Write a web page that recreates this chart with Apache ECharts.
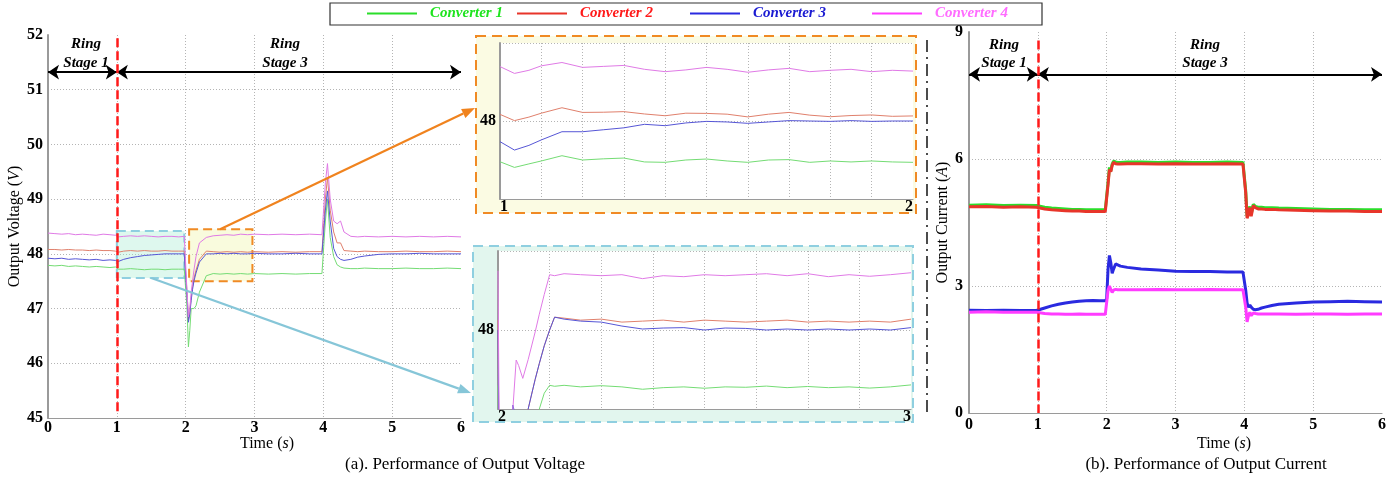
<!DOCTYPE html>
<html><head><meta charset="utf-8">
<script src="https://cdn.jsdelivr.net/npm/echarts@6/dist/echarts.min.js"></script>
<style>html,body{margin:0;padding:0;background:#fff}#c{width:1397px;height:477px}</style>
</head><body><div id="c"></div>
<script>
// ---------- DATA ----------
const names = ['Converter 1', 'Converter 2', 'Converter 3', 'Converter 4'];

// (a) Output voltage, full view
const tV = [0,0.1,0.2,0.3,0.4,0.5,0.6,0.7,0.8,0.9,0.98,1.0,1.02,1.1,1.2,1.3,1.4,1.5,1.6,1.7,1.8,1.9,1.98,2.0,2.02,2.04,2.06,2.08,2.1,2.12,2.15,2.2,2.3,2.4,2.5,2.6,2.7,2.8,2.9,3.0,3.2,3.4,3.6,3.8,3.98,4.0,4.03,4.06,4.1,4.15,4.2,4.25,4.3,4.4,4.5,4.6,4.8,5.0,5.2,5.4,5.6,5.8,6.0];
const voltC1 = [47.79,47.78,47.79,47.77,47.78,47.77,47.76,47.77,47.76,47.75,47.76, 47.74,47.72,47.72,47.73,47.72,47.71,47.72,47.72,47.71,47.72,47.72,47.72, 47.72,47.0,46.3,46.6,47.0,47.0,47.0,47.05,47.3,47.6, 47.64,47.63,47.64,47.63,47.64,47.63,47.64,47.63,47.64,47.63,47.64,47.64, 47.65,48.6,49.0,48.3,47.95,47.8,47.76,47.74, 47.73,47.73,47.74,47.73,47.73,47.74,47.73,47.73,47.74,47.73];
const voltC2 = [48.08,48.08,48.07,48.08,48.07,48.07,48.06,48.07,48.06,48.06,48.05, 48.05,48.03,48.05,48.06,48.05,48.06,48.05,48.05,48.06,48.05,48.05,48.05, 48.05,47.3,46.8,46.95,47.2,47.4,47.55,47.7,47.9,48.05, 48.04,48.03,48.04,48.03,48.04,48.03,48.04,48.03,48.04,48.03,48.04,48.04, 48.05,49.0,49.4,48.8,48.4,48.2,48.2,48.06, 48.05,48.04,48.05,48.04,48.04,48.05,48.04,48.04,48.05,48.04];
const voltC3 = [47.92,47.91,47.92,47.90,47.91,47.90,47.89,47.90,47.88,47.89,47.88, 47.87,47.86,47.90,47.93,47.95,47.97,47.98,47.99,48.0,48.0,48.0,48.0, 48.0,47.2,46.75,46.9,47.15,47.35,47.5,47.65,47.85,48.0, 48.0,48.01,48.0,48.01,48.0,48.0,48.01,48.0,48.0,48.01,48.0,48.0, 48.0,48.8,49.15,48.6,48.1,47.95,47.9,47.88, 47.9,47.94,47.96,47.99,48.0,48.0,48.01,48.0,48.0,48.0];
const voltC4 = [48.38,48.37,48.36,48.37,48.35,48.36,48.35,48.34,48.36,48.35,48.34, 48.33,48.31,48.32,48.33,48.32,48.33,48.32,48.31,48.32,48.32,48.31,48.32, 48.32,47.3,46.85,47.0,47.3,47.5,47.7,47.95,48.2,48.3, 48.33,48.34,48.35,48.34,48.36,48.35,48.36,48.35,48.36,48.35,48.36,48.35, 48.36,49.3,49.65,49.0,48.6,48.55,48.6,48.4, 48.32,48.31,48.32,48.31,48.32,48.31,48.32,48.31,48.32,48.31];

// zoom inset 1 (orange)
const tZ1 = [1.0,1.035,1.07,1.1,1.15,1.2,1.25,1.3,1.35,1.4,1.45,1.5,1.55,1.6,1.65,1.7,1.75,1.8,1.85,1.9,1.95,2.0];
const zoom1C1 = [47.791,47.762,47.78,47.795,47.822,47.80,47.806,47.81,47.79,47.788,47.80,47.805,47.795,47.788,47.80,47.802,47.788,47.795,47.79,47.795,47.79,47.788];
const zoom1C2 = [48.034,48.002,48.02,48.04,48.068,48.044,48.045,48.048,48.036,48.027,48.04,48.039,48.035,48.021,48.035,48.044,48.03,48.022,48.028,48.031,48.024,48.026];
const zoom1C3 = [47.894,47.851,47.875,47.903,47.945,47.945,47.955,47.965,47.983,47.976,47.99,47.998,47.995,47.988,47.995,48.002,48.0,47.998,48.002,47.998,48.0,48.0];
const zoom1C4 = [48.279,48.244,48.26,48.283,48.30,48.275,48.28,48.285,48.265,48.253,48.262,48.275,48.265,48.25,48.262,48.27,48.253,48.26,48.265,48.253,48.26,48.256];

// zoom inset 2 (teal)
const tZ2 = [2.0,2.004,2.02,2.03,2.036,2.044,2.05,2.06,2.073,2.09,2.1,2.112,2.125,2.137,2.16,2.2,2.25,2.3,2.35,2.4,2.45,2.5,2.55,2.6,2.65,2.7,2.75,2.8,2.85,2.9,2.95,3.0];
const zoom2C1 = [47.72,46.8,46.3,46.5,46.7,46.9,47.0,47.0,47.05,47.3,47.6,47.68,47.72,47.715,47.72,47.712,47.718,47.712,47.70,47.708,47.712,47.705,47.712,47.71,47.716,47.708,47.714,47.708,47.712,47.706,47.712,47.722];
const zoom2C2 = [48.05,47.0,46.8,46.9,47.0,47.1,47.2,47.35,47.6,47.75,47.83,47.92,48.0,48.065,48.06,48.05,48.055,48.04,48.045,48.05,48.04,48.05,48.045,48.04,48.045,48.05,48.04,48.045,48.04,48.045,48.04,48.055];
const zoom2C3 = [48.0,47.0,46.8,47.4,47.62,47.55,47.3,47.3,47.6,47.75,47.83,47.92,48.0,48.065,48.055,48.045,48.04,48.02,48.005,48.01,48.012,48.0,48.01,48.008,48.0,48.005,48.0,48.005,48.0,48.005,48.0,48.012];
const zoom2C4 = [48.30,47.2,46.9,47.3,47.6,47.848,47.82,47.755,47.85,47.99,48.08,48.18,48.28,48.275,48.285,48.28,48.275,48.28,48.26,48.275,48.27,48.28,48.275,48.28,48.285,48.275,48.285,48.27,48.28,48.272,48.28,48.29];

// (b) Output current
const tI = [0,0.25,0.5,0.75,0.98,1.0,1.1,1.2,1.3,1.4,1.5,1.6,1.7,1.8,1.9,1.98,2.0,2.02,2.04,2.06,2.08,2.1,2.13,2.16,2.2,2.3,2.5,2.75,3.0,3.25,3.5,3.75,3.98,4.0,4.02,4.04,4.06,4.08,4.1,4.13,4.16,4.2,4.25,4.3,4.4,4.5,4.75,5.0,5.25,5.5,5.75,6.0];
const currC1 = [4.91,4.92,4.90,4.91,4.90, 4.90,4.86,4.84,4.83,4.82,4.81,4.81,4.80,4.80,4.80,4.80, 4.82,5.45,5.8,5.72,5.88,5.95,5.93,5.92,5.92,5.93, 5.93,5.92,5.93,5.92,5.92,5.93,5.92, 5.88,5.25,4.65,4.75,4.88,4.7,4.93,4.88,4.86,4.86,4.85, 4.85,4.84,4.83,4.82,4.81,4.81,4.80,4.80];
const currC2 = [4.87,4.88,4.86,4.87,4.86, 4.86,4.82,4.80,4.79,4.78,4.77,4.77,4.76,4.76,4.76,4.76, 4.78,5.4,5.75,5.7,5.85,5.92,5.89,5.88,5.88,5.89, 5.89,5.88,5.89,5.88,5.88,5.89,5.88, 5.85,5.2,4.6,4.7,4.85,4.65,4.9,4.85,4.82,4.82,4.81, 4.81,4.80,4.79,4.78,4.77,4.77,4.76,4.76];
const currC3 = [2.43,2.42,2.43,2.42,2.42, 2.43,2.48,2.53,2.57,2.6,2.62,2.64,2.65,2.66,2.65,2.65, 2.7,3.4,3.72,3.55,3.3,3.4,3.52,3.5,3.47,3.44, 3.4,3.38,3.35,3.34,3.34,3.33,3.33, 3.3,2.9,2.6,2.5,2.55,2.5,2.45,2.44,2.45,2.48,2.5, 2.54,2.57,2.6,2.62,2.63,2.64,2.63,2.62];
const currC4 = [2.38,2.39,2.38,2.38,2.38, 2.37,2.35,2.34,2.34,2.33,2.33,2.34,2.33,2.33,2.33,2.33, 2.33,2.9,3.0,2.92,2.85,2.9,2.92,2.91,2.91,2.91, 2.91,2.92,2.91,2.91,2.92,2.91,2.91, 2.9,2.5,2.15,2.3,2.38,2.3,2.36,2.35,2.34,2.34,2.34, 2.34,2.34,2.33,2.34,2.34,2.33,2.34,2.34];

// tick settings
const voltTicks = { min: 45, max: 52, step: 1 };
const currTicks = { min: 0, max: 9, step: 3 };
const timeTicks = { min: 0, max: 6, step: 1 };

// ---------- STYLE ----------
const FF = '"Liberation Serif","Times New Roman",serif';
const thinCol = ['#74dc74', '#e0806c', '#5656d6', '#e07ae6'];
const thickCol = ['#2ade2a', '#e8352a', '#2a2ae0', '#ff3cff'];
const legendTextCol = ['#1fe41f', '#ff1a1a', '#1a1ad2', '#ff6cff'];

const chart = echarts.init(document.getElementById('c'));
const pairs = (ts, vs) => ts.map((t, i) => [t, vs[i]]);
const tickLabel = { fontFamily: FF, fontWeight: 'bold', fontSize: 16, color: '#000' };
const gridLine = { show: true, lineStyle: { color: '#b4b4b4', type: [1, 2], width: 1 } };
const intOnly = v => (Math.abs(v - Math.round(v)) < 1e-6 ? String(Math.round(v)) : '');

function lineSeries(name, gi, ts, vs, color, width) {
  return { type: 'line', name, xAxisIndex: gi, yAxisIndex: gi, data: pairs(ts, vs), symbol: 'none',
    showSymbol: false, silent: true, animation: false, clip: true,
    lineStyle: { color, width }, itemStyle: { color } };
}

const series = [];
const voltAll = [voltC1, voltC2, voltC3, voltC4];
const z1All = [zoom1C1, zoom1C2, zoom1C3, zoom1C4];
const z2All = [zoom2C1, zoom2C2, zoom2C3, zoom2C4];
const currAll = [currC1, currC2, currC3, currC4];
for (let k = 0; k < 4; k++) {
  series.push(lineSeries(names[k], 0, tV, voltAll[k], thinCol[k], 1));
  series.push(lineSeries(names[k], 1, tZ1, z1All[k], thinCol[k], 1));
  series.push(lineSeries(names[k], 2, tZ2, z2All[k], thinCol[k], 1));
  series.push(lineSeries(names[k], 3, tI, currAll[k], thickCol[k], 3));
}

// annotations attached to helper series (no data)
const arrowLine = { color: '#000', width: 1.8, type: 'solid' };
const redDash = { color: '#ff1a1a', width: 2.5, type: [9, 4] };
function helper(gi, stageY, areas) {
  return { type: 'line', xAxisIndex: gi, yAxisIndex: gi, data: [], silent: true, animation: false,
    markLine: { silent: true, animation: false, symbol: ['arrow', 'arrow'], symbolSize: 11, label: { show: false },
      lineStyle: arrowLine,
      data: [
        [{ coord: [0, stageY] }, { coord: [1, stageY] }],
        [{ coord: [1, stageY] }, { coord: [6, stageY] }]
      ] },
    markArea: areas ? { silent: true, animation: false, data: areas } : undefined
  };
}
function redLine(gi, top, bottom) {
  return { type: 'line', xAxisIndex: gi, yAxisIndex: gi, data: [], silent: true, animation: false, z: 5,
    markLine: { silent: true, animation: false, symbol: ['none', 'none'], label: { show: false }, lineStyle: redDash,
      data: [[{ coord: [1, top] }, { coord: [1, bottom] }]] } };
}
series.push(helper(0, 51.32, [
  [{ coord: [1.0, 48.42], itemStyle: { color: 'rgba(160,235,205,0.35)', borderColor: '#8fcfe0', borderWidth: 2, borderType: [9, 5] } }, { coord: [1.98, 47.56] }],
  [{ coord: [2.05, 48.45], itemStyle: { color: 'rgba(240,245,170,0.4)', borderColor: '#f08a24', borderWidth: 2, borderType: [9, 5] } }, { coord: [2.97, 47.5] }]
]));
series.push(redLine(0, 51.94, 45.07));
series.push(helper(3, 8.0));
series.push(redLine(3, 8.8, 0));

function xAxis(gi, min, max, interval, opts) {
  return Object.assign({ type: 'value', gridIndex: gi, min, max, interval,
    axisLine: { show: true, lineStyle: { color: '#9a9a9a', width: 1.2 } }, axisTick: { show: false },
    axisLabel: Object.assign({ margin: 2 }, tickLabel),
    splitLine: Object.assign({ showMinLine: false, showMaxLine: false }, gridLine) }, opts || {});
}
function yAxis(gi, min, max, interval, opts) {
  return Object.assign({ type: 'value', gridIndex: gi, min, max, interval,
    axisLine: { show: true, lineStyle: { color: '#9a9a9a', width: 2 } }, axisTick: { show: false },
    axisLabel: Object.assign({ margin: 5 }, tickLabel),
    splitLine: Object.assign({ showMinLine: false, showMaxLine: false }, gridLine) }, opts || {});
}
const nameStyle = { fontFamily: FF, fontSize: 16, color: '#000',
  rich: { i: { fontFamily: FF, fontSize: 16, fontStyle: 'italic', color: '#000' } } };

const option = {
  backgroundColor: '#fff',
  animation: false,
  legend: names.map((n, k) => ({
    left: [367, 517, 690, 872][k], top: 6, padding: 0, itemWidth: 50, itemHeight: 2, selectedMode: false,
    data: [{ name: n, icon: 'rect', itemStyle: { color: thickCol[k] }, textStyle: { color: legendTextCol[k] } }],
    textStyle: { fontFamily: FF, fontStyle: 'italic', fontWeight: 'bold', fontSize: 15, padding: [0, 0, 0, 8] }
  })),
  grid: [
    { left: 48, top: 35, width: 413, height: 383, show: false },
    { left: 500, top: 43, width: 413, height: 156, show: true, backgroundColor: '#fff', borderWidth: 0 },
    { left: 498, top: 251, width: 413, height: 158, show: true, backgroundColor: '#fff', borderWidth: 0 },
    { left: 969, top: 32, width: 413, height: 381, show: false }
  ],
  xAxis: [
    xAxis(0, timeTicks.min, timeTicks.max, timeTicks.step),
    xAxis(1, 1, 2, 0.1, { axisLabel: Object.assign({ margin: 0, formatter: intOnly, alignMinLabel: 'left', alignMaxLabel: 'right' }, tickLabel) }),
    xAxis(2, 2, 3, 0.125, { axisLabel: Object.assign({ margin: 0, formatter: intOnly, alignMinLabel: 'left', alignMaxLabel: 'right' }, tickLabel) }),
    xAxis(3, timeTicks.min, timeTicks.max, timeTicks.step, { axisLabel: Object.assign({ margin: 4 }, tickLabel) })
  ],
  yAxis: [
    yAxis(0, voltTicks.min, voltTicks.max, voltTicks.step, { name: 'Output Voltage ({i|V})', nameLocation: 'middle', nameGap: 23, nameRotate: 90, nameTextStyle: nameStyle }),
    yAxis(1, 47.6, 48.4, 0.4, { axisLabel: Object.assign({ margin: 4, formatter: v => (Math.abs(v - 48) < 1e-6 ? '48' : '') }, tickLabel),
      splitLine: Object.assign({ showMinLine: false, showMaxLine: true }, gridLine) }),
    yAxis(2, 47.6, 48.4, 0.4, { axisLabel: Object.assign({ margin: 4, formatter: v => (Math.abs(v - 48) < 1e-6 ? '48' : '') }, tickLabel),
      splitLine: Object.assign({ showMinLine: false, showMaxLine: true }, gridLine) }),
    yAxis(3, currTicks.min, currTicks.max, currTicks.step, { name: 'Output Current ({i|A})', nameLocation: 'middle', nameGap: 14, nameRotate: 90, nameTextStyle: nameStyle, axisLabel: Object.assign({ margin: 6 }, tickLabel) })
  ],
  series
};
chart.setOption(option);

// ---------- decorations ----------
const P = (gi, x, y) => chart.convertToPixel({ gridIndex: gi }, [x, y]);
function arrow(p0, p1, color) {
  const dx = p1[0] - p0[0], dy = p1[1] - p0[1], L = Math.hypot(dx, dy), ux = dx / L, uy = dy / L;
  const hl = 13, hw = 5;
  const bx = p1[0] - ux * hl, by = p1[1] - uy * hl;
  return [
    { type: 'line', z: 100, shape: { x1: p0[0], y1: p0[1], x2: bx, y2: by }, style: { stroke: color, lineWidth: 2.2 } },
    { type: 'polygon', z: 100, shape: { points: [[p1[0], p1[1]], [bx - uy * hw, by + ux * hw], [bx + uy * hw, by - ux * hw]] }, style: { fill: color } }
  ];
}
function txt(x, y, text, font, rich) {
  return { type: 'text', z: 100, x, y, style: { text, font, fill: '#000', align: 'center', verticalAlign: 'middle', rich } };
}
const stageFont = 'italic bold 15px ' + FF;
const g1 = P(1, 1, 48.4), g2 = P(2, 2, 48.4);
const orangeStart = P(0, 2.5, 48.45), tealStart = P(0, 1.5, 47.56);
const graphics = [
  { type: 'rect', z: 100, shape: { x: 330, y: 3, width: 712, height: 22 }, style: { fill: 'none', stroke: '#333', lineWidth: 1.2 } },
  { type: 'rect', z: -1, shape: { x: g1[0] - 24, y: g1[1] - 7, width: 440, height: 177 }, style: { fill: '#fbfbe3', stroke: '#f08a24', lineWidth: 2, lineDash: [10, 6] } },
  { type: 'rect', z: -1, shape: { x: g2[0] - 25, y: g2[1] - 5, width: 440, height: 176 }, style: { fill: '#e2f6ee', stroke: '#8fcfe0', lineWidth: 2, lineDash: [10, 6] } },
  { type: 'line', z: 100, shape: { x1: 927, y1: 40, x2: 927, y2: 412 }, style: { stroke: '#000', lineWidth: 1.4, lineDash: [12, 5, 2, 5] } },
  ...arrow(orangeStart, [475, 108], '#f0831e'),
  ...arrow(tealStart, [471, 393], '#86c6d8'),
  txt(86, 44, 'Ring', stageFont), txt(86, 63, 'Stage 1', stageFont),
  txt(285, 44, 'Ring', stageFont), txt(285, 63, 'Stage 3', stageFont),
  txt(1004, 45, 'Ring', stageFont), txt(1004, 63, 'Stage 1', stageFont),
  txt(1205, 45, 'Ring', stageFont), txt(1205, 63, 'Stage 3', stageFont),
  txt(267, 444, 'Time ({i|s})', '16px ' + FF, { i: { font: 'italic 16px ' + FF, fill: '#000' } }),
  txt(1224, 444, 'Time ({i|s})', '16px ' + FF, { i: { font: 'italic 16px ' + FF, fill: '#000' } }),
  txt(465, 465, '(a). Performance of Output Voltage', '17px ' + FF),
  txt(1206, 465, '(b). Performance of Output Current', '17px ' + FF)
];
chart.setOption({ graphic: graphics });
</script>
</body></html>
